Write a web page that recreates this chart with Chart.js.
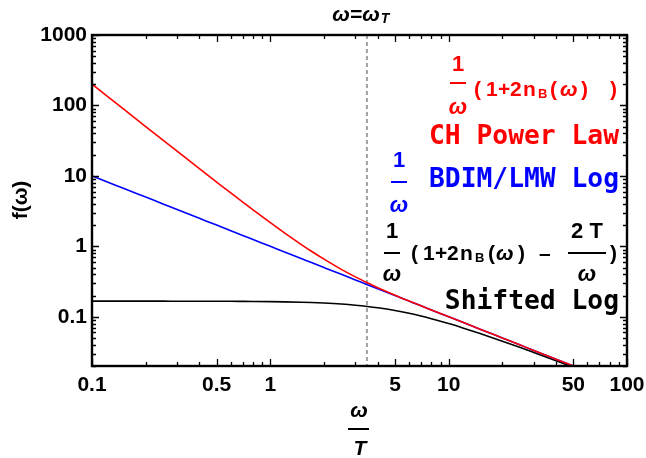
<!DOCTYPE html>
<html>
<head>
<meta charset="utf-8">
<script src="https://cdn.jsdelivr.net/npm/chart.js@4/dist/chart.umd.min.js"></script>
<style>
  html, body { margin: 0; padding: 0; background: #fff; }
</style>
</head>
<body>
<canvas id="myChart" width="646" height="458"></canvas>
<script>
// values (log-log)
const xValues     = [0.1, 0.12, 0.15, 0.2, 0.25, 0.3, 0.4, 0.5, 0.6, 0.7, 0.8, 1, 1.2, 1.5, 1.7, 2, 2.5, 3, 3.5, 4, 5, 6, 7, 8, 10, 12, 15, 20, 25, 30, 40, 50];
const redValues   = [200.2, 139.06, 89.05, 50.17, 32.17, 22.39, 12.666, 8.17, 5.721, 4.25, 3.290, 2.164, 1.5517, 1.050, 0.8512, 0.657, 0.4715, 0.368, 0.3035, 0.259, 0.2027, 0.1675, 0.1431, 0.1251, 0.1000, 0.0833, 0.0667, 0.0500, 0.0400, 0.0333, 0.0250, 0.0200];
const blueValues  = [10, 8.333, 6.667, 5, 4, 3.333, 2.5, 2, 1.667, 1.429, 1.25, 1, 0.833, 0.667, 0.588, 0.5, 0.4, 0.333, 0.2857, 0.25, 0.2, 0.1667, 0.1429, 0.125, 0.1, 0.0833, 0.0667, 0.05, 0.04, 0.0333, 0.025, 0.02];
const blackValues = [0.1667, 0.1666, 0.1666, 0.1666, 0.1665, 0.1664, 0.1662, 0.1660, 0.1657, 0.1653, 0.1649, 0.1640, 0.1628, 0.1607, 0.1592, 0.1565, 0.1515, 0.1460, 0.1402, 0.1343, 0.1227, 0.1119, 0.1023, 0.0938, 0.0800, 0.0694, 0.0578, 0.0450, 0.0368, 0.0311, 0.0238, 0.0192];

const xTickLabels = [0.1, 0.5, 1, 5, 10, 50, 100];
const yTickLabels = [0.1, 1, 10, 100, 1000];
const omegaT = 3.48;

const tickFont = { family: 'Liberation Sans', size: 21, weight: 'bold' };

function toPoints(ys) {
  return xValues.map((x, i) => ({ x: x, y: ys[i] }));
}

function minorValues(lo, hi) {
  const out = [];
  for (let d = lo; d < hi * 0.999; d *= 10) {
    for (let k = 1; k < 10; k++) out.push(d * k);
  }
  out.push(hi);
  return out;
}

const F = 'bold 21px "Liberation Sans"';
const FI = 'italic bold 21px "Liberation Sans"';
const FS = 'bold 13px "Liberation Sans"';
const MONO = 'bold 26.3px "DejaVu Sans Mono"';

// glyphs placed one by one: [text, left x, middle y, font]
function glyphs(ctx, list, color) {
  ctx.fillStyle = color;
  ctx.textAlign = 'left';
  ctx.textBaseline = 'middle';
  list.forEach(g => {
    ctx.font = g[3];
    ctx.fillText(g[0], g[1], g[2]);
  });
}

function fraction(ctx, cx, yTop, yBar, yBot, top, bottom, w, color) {
  ctx.fillStyle = color;
  ctx.strokeStyle = color;
  ctx.textAlign = 'center';
  ctx.textBaseline = 'middle';
  ctx.font = 'bold 22px "Liberation Sans"';
  ctx.fillText(top, cx, yTop);
  ctx.font = 'italic bold 22px "Liberation Sans"';
  ctx.fillText(bottom, cx, yBot);
  ctx.lineWidth = 2;
  ctx.beginPath();
  ctx.moveTo(cx - w / 2, yBar);
  ctx.lineTo(cx + w / 2, yBar);
  ctx.stroke();
}

function label(ctx, text, y, color) {
  ctx.font = MONO;
  ctx.textAlign = 'right';
  ctx.textBaseline = 'middle';
  ctx.fillStyle = color;
  ctx.fillText(text, 619, y);
}

const framePlugin = {
  id: 'frame',
  beforeDatasetsDraw(chart) {
    const { ctx, chartArea: a, scales: { x } } = chart;
    const px = x.getPixelForValue(omegaT);
    ctx.save();
    ctx.strokeStyle = '#a0a0a0';
    ctx.lineWidth = 2;
    ctx.setLineDash([4, 3]);
    ctx.beginPath();
    ctx.moveTo(px, a.top);
    ctx.lineTo(px, a.bottom);
    ctx.stroke();
    ctx.restore();
  },
  afterDraw(chart) {
    const { ctx, chartArea: a, scales: { x, y } } = chart;
    ctx.save();
    ctx.strokeStyle = '#000';
    ctx.lineWidth = 2.4;
    ctx.strokeRect(a.left, a.top, a.right - a.left, a.bottom - a.top);

    ctx.lineWidth = 1.3;
    ctx.beginPath();
    minorValues(0.1, 100).forEach(v => {
      const p = Math.round(x.getPixelForValue(v)) + 0.5;
      const len = xTickLabels.some(t => Math.abs(t - v) < 1e-9) ? 7 : 4;
      ctx.moveTo(p, a.bottom); ctx.lineTo(p, a.bottom - len);
      ctx.moveTo(p, a.top); ctx.lineTo(p, a.top + len);
    });
    minorValues(0.01, 1000).forEach(v => {
      if (v < 0.02) return;
      const p = Math.round(y.getPixelForValue(v)) + 0.5;
      const len = yTickLabels.some(t => Math.abs(t - v) < 1e-9) ? 7 : 4;
      ctx.moveTo(a.left, p); ctx.lineTo(a.left + len, p);
      ctx.moveTo(a.right, p); ctx.lineTo(a.right - len, p);
    });
    ctx.stroke();

    // axis titles
    ctx.fillStyle = '#000';
    ctx.save();
    ctx.translate(21, 200);
    ctx.rotate(-Math.PI / 2);
    ctx.textAlign = 'center';
    ctx.textBaseline = 'middle';
    ctx.font = 'bold 21px "Liberation Sans"';
    ctx.fillText('f(ω)', 0, 0);
    ctx.restore();

    ctx.textAlign = 'center';
    ctx.textBaseline = 'middle';
    ctx.font = 'italic bold 21px "Liberation Sans"';
    ctx.fillText('ω', 359, 411);
    ctx.fillText('T', 360, 449);
    ctx.lineWidth = 2;
    ctx.beginPath();
    ctx.moveTo(348, 429); ctx.lineTo(369, 429);
    ctx.stroke();

    // top label
    ctx.font = 'italic bold 21px "Liberation Sans"';
    const w = ctx.measureText('ω=ω').width;
    const lx = 361 - (w + 10) / 2;
    glyphs(ctx, [
      ['ω=ω', lx, 15, 'italic bold 21px "Liberation Sans"'],
      ['T', lx + w + 1, 19, 'italic bold 14px "Liberation Sans"']
    ], '#000');

    // red label
    fraction(ctx, 458, 65, 83, 108, '1', 'ω', 16, '#ff0000');
    glyphs(ctx, [
      ['(', 474, 90, F], ['1', 486, 90, F], ['+', 498, 90, F], ['2', 510, 90, F],
      ['n', 523, 90, F], ['B', 538, 94, FS], ['(', 550, 90, F], ['ω', 560, 90, FI],
      [')', 581, 90, F], [')', 610, 90, F]
    ], '#ff0000');
    label(ctx, 'CH Power Law', 137, '#ff0000');

    // blue label
    fraction(ctx, 399, 161, 182, 206, '1', 'ω', 16, '#0000ff');
    label(ctx, 'BDIM/LMW Log', 180, '#0000ff');

    // black label
    fraction(ctx, 392, 232, 253, 275, '1', 'ω', 16, '#000');
    fraction(ctx, 587, 232, 253, 275, '2 T', 'ω', 38, '#000');
    glyphs(ctx, [
      ['(', 411, 254, F], ['1', 423, 254, F], ['+', 435, 254, F], ['2', 447, 254, F],
      ['n', 460, 254, F], ['B', 475, 258, FS], ['(', 488, 254, F], ['ω', 496, 254, FI],
      [')', 518, 254, F], ['–', 539, 254, F], [')', 610, 254, F]
    ], '#000');
    label(ctx, 'Shifted Log', 302, '#000');

    ctx.restore();
  }
};

function lineSet(label, ys, color) {
  return {
    label: label,
    data: toPoints(ys),
    borderColor: color,
    borderWidth: 1.6,
    pointRadius: 0,
    fill: false,
    cubicInterpolationMode: 'monotone',
    clip: 0
  };
}

const ctx = document.getElementById('myChart').getContext('2d');
const chartInstance = new Chart(ctx, {
  type: 'line',
  data: {
    datasets: [
      lineSet('CH Power Law', redValues, '#ff0000'),
      lineSet('BDIM/LMW Log', blueValues, '#0000ff'),
      lineSet('Shifted Log', blackValues, '#000000')
    ]
  },
  options: {
    responsive: false,
    animation: false,
    layout: { padding: { top: 35, right: 19, left: 0, bottom: 0 } },
    plugins: { legend: { display: false }, tooltip: { enabled: false } },
    scales: {
      x: {
        type: 'logarithmic',
        min: 0.1,
        max: 100,
        grid: { display: false, drawTicks: false },
        border: { display: false },
        afterBuildTicks: s => { s.ticks = xTickLabels.map(v => ({ value: v })); },
        afterFit: s => { s.height = 92; s.paddingLeft = 0; s.paddingRight = 0; },
        ticks: {
          autoSkip: false,
          maxRotation: 0,
          padding: 7,
          color: '#000',
          font: tickFont,
          callback: v => String(v)
        }
      },
      y: {
        type: 'logarithmic',
        min: 0.02,
        max: 1000,
        grid: { display: false, drawTicks: false },
        border: { display: false },
        afterBuildTicks: s => { s.ticks = yTickLabels.map(v => ({ value: v })); },
        afterFit: s => { s.width = 92; s.paddingTop = 0; s.paddingBottom = 0; },
        ticks: {
          autoSkip: false,
          padding: 5,
          color: '#000',
          font: tickFont,
          callback: v => String(v)
        }
      }
    }
  },
  plugins: [framePlugin]
});
</script>
</body>
</html>
